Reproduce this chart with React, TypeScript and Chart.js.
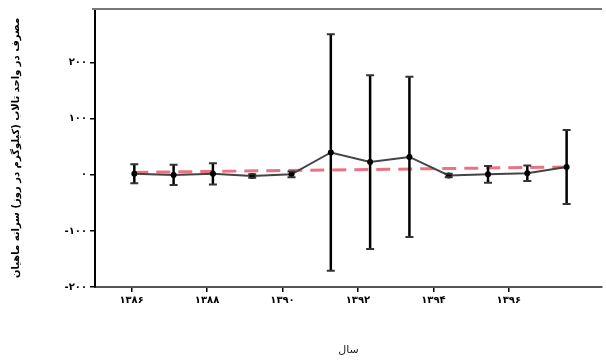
import React, { useEffect, useRef } from 'react';
import { Chart, registerables } from 'chart.js';

Chart.register(...registerables);

const YEARS = [1386, 1387, 1388, 1389, 1390, 1391, 1392, 1393, 1394, 1395, 1396, 1397];
const MEANS = [2, 0, 2, -2, 1, 40, 23, 32, -1, 1, 3, 14];
const ERRORS = [17, 18, 19, 3, 5, 211, 155, 143, 3, 15, 14, 66];
const TREND_YEARS = [1386, 1397];
const TREND_VALUES = [4.5, 14];
const X_TICKS = [1386, 1388, 1390, 1392, 1394, 1396];
const Y_TICKS = [-200, -100, 0, 100, 200];
const Y_TITLE = 'مصرف در واحد تالاب (کیلوگرم در روز) سرانه ماهیان';
const X_TITLE = 'سال';

const FA_DIGITS = '۰۱۲۳۴۵۶۷۸۹';
const fa = (n: number | string) => String(n).replace(/\d/g, (d) => FA_DIGITS[Number(d)]);

const FONT = "'DejaVu Sans', sans-serif";

const errorBars = {
  id: 'errorBars',
  afterDatasetsDraw(chart: any) {
    const { ctx } = chart;
    const xs = chart.scales.x;
    const ys = chart.scales.y;
    ctx.save();
    YEARS.forEach((yr, i) => {
      const px = xs.getPixelForValue(yr);
      const top = ys.getPixelForValue(MEANS[i] + ERRORS[i]);
      const bot = ys.getPixelForValue(MEANS[i] - ERRORS[i]);
      ctx.strokeStyle = '#000';
      ctx.lineWidth = 2.5;
      ctx.beginPath();
      ctx.moveTo(px, top);
      ctx.lineTo(px, bot);
      ctx.stroke();
      ctx.strokeStyle = '#333';
      ctx.lineWidth = 2;
      ctx.beginPath();
      ctx.moveTo(px - 4, top);
      ctx.lineTo(px + 4, top);
      ctx.moveTo(px - 4, bot);
      ctx.lineTo(px + 4, bot);
      ctx.stroke();
    });
    ctx.restore();
  },
};

const topBorder = {
  id: 'topBorder',
  afterDraw(chart: any) {
    const { ctx, chartArea } = chart;
    ctx.save();
    ctx.strokeStyle = '#777';
    ctx.lineWidth = 2;
    ctx.beginPath();
    ctx.moveTo(chartArea.left - 3, chartArea.top);
    ctx.lineTo(chartArea.right, chartArea.top);
    ctx.stroke();
    ctx.restore();
  },
};

export default function App() {
  const ref = useRef<HTMLCanvasElement>(null);

  useEffect(() => {
    if (!ref.current) return;
    const chart = new Chart(ref.current, {
      type: 'line',
      data: {
        datasets: [
          {
            label: 'trend',
            data: TREND_YEARS.map((x, i) => ({ x, y: TREND_VALUES[i] })),
            borderColor: 'rgba(228, 80, 100, 0.8)',
            borderWidth: 3,
            borderDash: [14, 8],
            pointRadius: 0,
            fill: false,
            xAxisID: 'x',
            yAxisID: 'y',
            order: 2,
          },
          {
            label: 'mean',
            data: YEARS.map((x, i) => ({ x, y: MEANS[i] })),
            borderColor: '#444',
            borderWidth: 2,
            pointRadius: 3,
            pointBorderWidth: 0,
            pointBackgroundColor: '#000',
            pointBorderColor: '#000',
            fill: false,
            xAxisID: 'x',
            yAxisID: 'y',
            order: 1,
          },
        ],
      },
      options: {
        responsive: false,
        animation: false,
        layout: { padding: { top: 8, right: 0, left: 0, bottom: 0 } },
        plugins: {
          legend: { display: false },
          tooltip: { enabled: false },
        },
        scales: {
          x: {
            type: 'linear',
            display: false,
            min: 1385,
            max: 1397.9,
          },
          x2: {
            type: 'linear',
            position: 'bottom',
            min: 1385.03,
            max: 1398.47,
            afterBuildTicks: (scale: any) => {
              scale.ticks = X_TICKS.map((v) => ({ value: v }));
            },
            afterFit: (scale: any) => {
              scale.height = 74;
            },
            grid: {
              display: true,
              drawOnChartArea: false,
              drawTicks: true,
              tickLength: 5,
              color: '#000',
              lineWidth: 1.5,
            },
            border: { display: true, color: '#555', width: 2 },
            ticks: {
              callback: (v: any) => fa(v),
              color: '#000',
              font: { family: FONT, size: 10, weight: 'bold' },
              padding: 2,
              maxRotation: 0,
              autoSkip: false,
            },
            title: {
              display: true,
              text: X_TITLE,
              color: '#222',
              font: { family: FONT, size: 11 },
              padding: { top: 0, bottom: 4 },
            },
          },
          y: {
            type: 'linear',
            min: -200,
            max: 296,
            afterBuildTicks: (scale: any) => {
              scale.ticks = Y_TICKS.map((v) => ({ value: v }));
            },
            afterFit: (scale: any) => {
              scale.width = 95;
            },
            grid: {
              display: true,
              drawOnChartArea: false,
              drawTicks: true,
              tickLength: 5,
              color: '#000',
              lineWidth: 1.5,
            },
            border: { display: true, color: '#000', width: 2 },
            ticks: {
              callback: (v: any) => fa(v),
              color: '#000',
              font: { family: FONT, size: 10, weight: 'bold' },
              padding: 3,
            },
            title: {
              display: true,
              text: Y_TITLE,
              color: '#000',
              font: { family: FONT, size: 10, weight: 'bold' },
              padding: { top: 10, bottom: 0 },
            },
          },
        },
      },
      plugins: [errorBars, topBorder],
    } as any);
    return () => chart.destroy();
  }, []);

  return (
    <div style={{ position: 'fixed', left: 0, top: 0, width: 606, height: 361, background: '#fff' }}>
      <canvas ref={ref} width={606} height={361} style={{ display: 'block' }} />
    </div>
  );
}
